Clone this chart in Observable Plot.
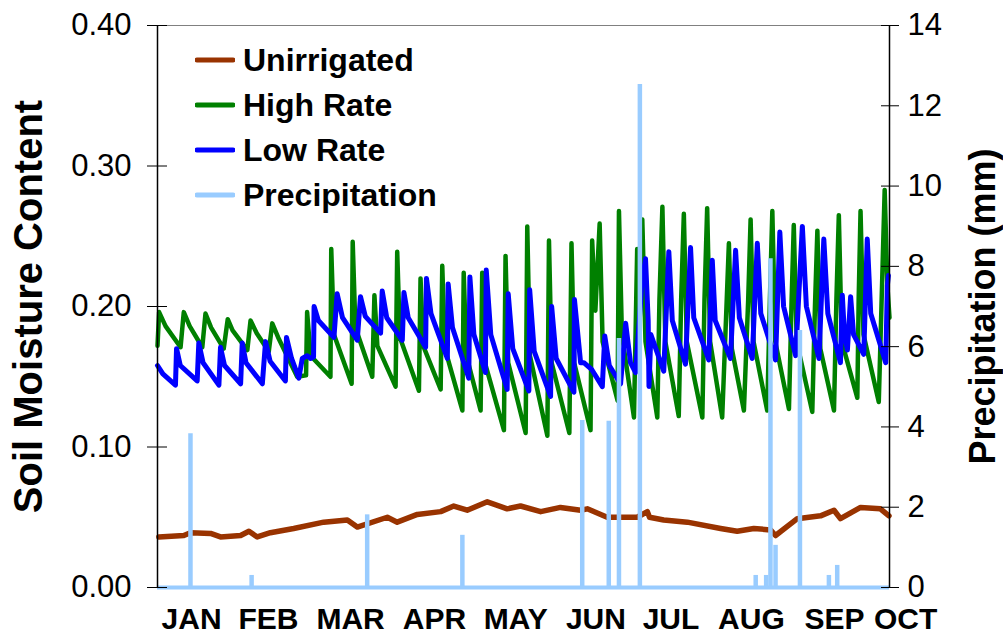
<!DOCTYPE html>
<html><head><meta charset="utf-8">
<script src="https://cdn.jsdelivr.net/npm/d3@7"></script>
<script src="https://cdn.jsdelivr.net/npm/@observablehq/plot@0.6"></script>
<style>
html,body{margin:0;padding:0;background:#fff;}
#chart{position:relative;width:1003px;height:634px;font-family:"Liberation Sans",Arial,sans-serif;}
#legend{position:absolute;left:195px;top:37px;}
.item{display:flex;align-items:center;height:45px;font-weight:bold;font-size:32px;color:#000;line-height:1;}
.item svg{margin-right:8px;display:block}
</style></head><body><div id="chart"><div id="legend"></div></div>
<script>
// ---- data (day of year from Jan 1, value) ----
const seriesNames = ["Unirrigated", "High Rate", "Low Rate", "Precipitation"];
const seriesColors = ["#993300", "#008000", "#0000FF", "#99CCFF"];

const monthLabels = ["JAN","FEB","MAR","APR","MAY","JUN","JUL","AUG","SEP","OCT"];
const monthDays = [12.7, 41.4, 72.0, 103.3, 133.6, 163.5, 191.5, 221.5, 252.5, 279.0];
const leftTicks = [0, 0.1, 0.2, 0.3, 0.4];
const rightTicks = [0, 2, 4, 6, 8, 10, 12, 14];

const unirrigated = [[0.5,0.036],[9.8,0.037],[12.3,0.039],[19.8,0.0385],[23.5,0.036],[31.0,0.037],[34.1,0.040],[37.2,0.036],[42.1,0.039],[50.8,0.042],[62.0,0.0465],[70.8,0.048],[74.5,0.043],[85.7,0.050],[89.4,0.0465],[96.9,0.052],[105.6,0.054],[110.5,0.058],[115.5,0.055],[123.0,0.061],[130.4,0.056],[135.4,0.058],[142.9,0.054],[150.3,0.057],[157.8,0.055],[160.3,0.056],[167.7,0.050],[178.9,0.050],[182.7,0.054],[183.5,0.050],[188.8,0.048],[197.6,0.0465],[210.0,0.042],[216.2,0.040],[222.4,0.042],[228.6,0.041],[230.5,0.037],[238.6,0.049],[247.3,0.051],[252.3,0.055],[254.7,0.049],[262.2,0.057],[269.6,0.056],[272.8,0.051]];

const highRate = [[0.0,0.172],[0.6,0.196],[3,0.186],[8.6,0.171],
[9.8,0.196],[12,0.186],[16.7,0.171],
[17.9,0.195],[20,0.185],[24.7,0.170],
[26.2,0.191],[28,0.183],[33.5,0.169],
[34.7,0.190],[37,0.181],[41.5,0.168],
[42.8,0.188],[45,0.178],[52.1,0.150],
[55.4,0.151],[55.8,0.196],[57.1,0.165],[64.5,0.150],
[64.8,0.241],[65.8,0.180],[72.4,0.145],
[72.8,0.246],[73.8,0.185],[80.1,0.150],
[80.9,0.208],[82,0.172],[88.8,0.143],
[89.4,0.239],[90.4,0.178],[97.5,0.140],
[98.1,0.220],[99.1,0.172],[105.6,0.141],
[106.2,0.229],[107.2,0.170],[113.7,0.126],
[114.2,0.224],[115.2,0.165],[120.5,0.126],
[121.1,0.224],[122.1,0.160],[129.2,0.112],
[129.8,0.236],[130.8,0.160],[137.3,0.110],
[137.9,0.257],[138.9,0.165],[145.4,0.108],
[146.0,0.247],[147.0,0.160],[153.6,0.110],
[154.4,0.245],[155.4,0.160],[161.5,0.112],
[162.1,0.247],[163.3,0.197],[164.9,0.259],[166.0,0.175],[171.6,0.133],
[172.1,0.268],[173.2,0.180],[177.7,0.121],
[178.9,0.241],[179.6,0.200],[180.8,0.262],[182.0,0.175],[186.4,0.121],
[187.2,0.205],[188.3,0.271],[189.4,0.175],[194.4,0.122],
[195.3,0.205],[196.3,0.266],[197.4,0.175],[203.2,0.121],
[204.0,0.205],[205.0,0.270],[206.1,0.175],[210.6,0.121],
[212.2,0.200],[213.1,0.245],[214.2,0.170],[218.7,0.126],
[220.3,0.205],[221.2,0.262],[222.3,0.175],[227.4,0.126],
[228.4,0.205],[229.3,0.268],[230.4,0.175],[235.5,0.127],
[236.5,0.205],[237.3,0.258],[238.4,0.175],[244.2,0.125],
[245.2,0.200],[246.1,0.254],[247.2,0.170],[252.3,0.126],
[253.2,0.205],[254.1,0.265],[255.2,0.175],[261.0,0.135],
[261.5,0.205],[262.2,0.268],[263.3,0.180],[269.0,0.132],
[270.0,0.200],[271.2,0.283],[272.2,0.215],[273.0,0.192]];

const lowRate = [[0.0,0.158],[2,0.152],[6.7,0.144],
[7.1,0.170],[8.5,0.158],[14.8,0.147],
[15.4,0.174],[17,0.160],[22.9,0.144],
[23.5,0.171],[25,0.158],[31.0,0.145],
[31.6,0.174],[33,0.160],[39.1,0.145],
[40.3,0.175],[42,0.161],[47.7,0.147],
[48.1,0.178],[50,0.163],[52.7,0.149],[54.0,0.163],[55.8,0.165],[57.1,0.163],[58.2,0.164],
[58.4,0.200],[60,0.190],[65.8,0.178],
[67.0,0.209],[69,0.192],[74.5,0.176],
[75.7,0.207],[77.5,0.193],[83.2,0.181],
[83.8,0.211],[85.5,0.192],[91.3,0.176],
[91.9,0.210],[93.5,0.192],[100.0,0.171],
[100.3,0.220],[102,0.195],[108.1,0.163],
[108.4,0.216],[110,0.185],[116.1,0.149],
[116.5,0.221],[118,0.180],[122.3,0.153],
[122.6,0.226],[124.3,0.180],[130.4,0.141],
[130.8,0.209],[132.5,0.170],[138.5,0.140],
[138.8,0.212],[140.5,0.168],[146.6,0.136],
[147.0,0.200],[148.7,0.163],[155.3,0.139],
[155.5,0.205],[157.8,0.160],[159.0,0.160],[162,0.155],[165.9,0.143],
[166.8,0.179],[168.5,0.158],[172.7,0.145],
[174.6,0.188],[176.4,0.160],[178.3,0.153],
[180.6,0.215],[182.0,0.234],[183.0,0.190],[183.3,0.143],[184.0,0.180],[188.8,0.154],
[190.7,0.239],[192,0.190],[196.9,0.159],
[198.8,0.242],[200,0.192],[205.6,0.162],
[206.9,0.233],[208,0.190],[213.7,0.163],
[215.6,0.240],[217,0.192],[221.8,0.163],
[223.7,0.245],[225,0.195],[230.5,0.162],
[232.1,0.253],[233.5,0.200],[238.0,0.165],
[240.5,0.257],[242,0.200],[246.7,0.163],
[248.5,0.248],[250,0.195],[254.7,0.160],
[255.4,0.208],[256.2,0.180],[257.3,0.169],
[258.5,0.207],[259.6,0.180],[263.4,0.166],
[264.7,0.248],[266,0.195],[271.6,0.160],
[272.2,0.215],[272.6,0.222]];

const precipDays = [12.3, 35.1, 78.2, 113.7, 158.4, 168.3, 172.1, 179.9, 223.1, 227.0, 228.6, 230.5, 239.6, 250.4, 253.5];
const precipMM   = [3.83, 0.30, 1.81, 1.30, 4.16, 4.14, 6.20, 12.53, 0.30, 0.30, 8.19, 1.05, 6.40, 0.30, 0.55];

// ---- build ----
const xDomain = [0, 273];
const yMax = 0.4, pMax = 14;
const k = yMax / pMax; // precipitation (mm) -> left-axis units
const rows = arr => arr.map(([day, v]) => ({day, v}));
const precip = precipDays.map((d, i) => ({day: d, mm: precipMM[i]}));
const fontFamily = '"Liberation Sans", Arial, sans-serif';

const chart = Plot.plot({
  width: 1003, height: 634,
  marginLeft: 157, marginRight: 114, marginTop: 25, marginBottom: 47,
  style: {fontFamily, background: "transparent", overflow: "visible", color: "#000"},
  x: {domain: xDomain},
  y: {domain: [0, yMax]},
  marks: [
    Plot.frame({stroke: "#808080", strokeWidth: 1}),
    Plot.line(rows(unirrigated), {x: "day", y: "v", stroke: seriesColors[0], strokeWidth: 5.5}),
    Plot.line(rows(highRate), {x: "day", y: "v", stroke: seriesColors[1], strokeWidth: 4.5}),
    Plot.line(rows(lowRate), {x: "day", y: "v", stroke: seriesColors[2], strokeWidth: 5}),
    Plot.ruleY([0], {stroke: seriesColors[3], strokeWidth: 4}),
    Plot.ruleX(precip, {x: "day", y1: 0, y2: d => d.mm * k, stroke: seriesColors[3], strokeWidth: 4.5}),
    Plot.ruleX([xDomain[0]], {stroke: "#000", strokeWidth: 1.5}),
    Plot.ruleX([xDomain[1]], {stroke: "#000", strokeWidth: 1.5}),
    Plot.axisY({anchor: "left", ticks: leftTicks, tickFormat: d3.format(".2f"), tickSize: 10, tickPadding: 16, fontSize: 31, label: null}),
    Plot.axisY({anchor: "left", ticks: leftTicks, tickFormat: () => "", tickSize: -10, label: null}),
    Plot.axisY({anchor: "right", ticks: rightTicks.map(t => t * k), tickFormat: d => String(Math.round(d / k)), tickSize: 9, tickPadding: 9, fontSize: 31, label: null}),
    Plot.axisY({anchor: "right", ticks: rightTicks.map(t => t * k), tickFormat: () => "", tickSize: -9, label: null}),
    Plot.axisX({ticks: monthDays, tickFormat: d => monthLabels[monthDays.indexOf(d)], tickSize: 0, tickPadding: 20, fontSize: 30, fontWeight: "bold", label: null}),
    Plot.text(["Soil Moisture Content"], {text: d => d, frameAnchor: "left", dx: -128, rotate: -90, textAnchor: "middle", lineAnchor: "middle", fontSize: 40, fontWeight: "bold"}),
    Plot.text(["Precipitation (mm)"], {text: d => d, frameAnchor: "right", dx: 94, rotate: -90, textAnchor: "middle", lineAnchor: "middle", fontSize: 36, fontWeight: "bold"})
  ]
});
document.getElementById("chart").prepend(chart);

// legend (HTML overlay inside the plot area)
const legend = document.getElementById("legend");
seriesNames.forEach((name, i) => {
  const item = document.createElement("div");
  item.className = "item";
  item.innerHTML = `<svg width="40" height="8"><line x1="2" y1="4" x2="38" y2="4" stroke="${seriesColors[i]}" stroke-width="5" stroke-linecap="round"/></svg><span>${name}</span>`;
  legend.appendChild(item);
});
</script>
</body></html>
